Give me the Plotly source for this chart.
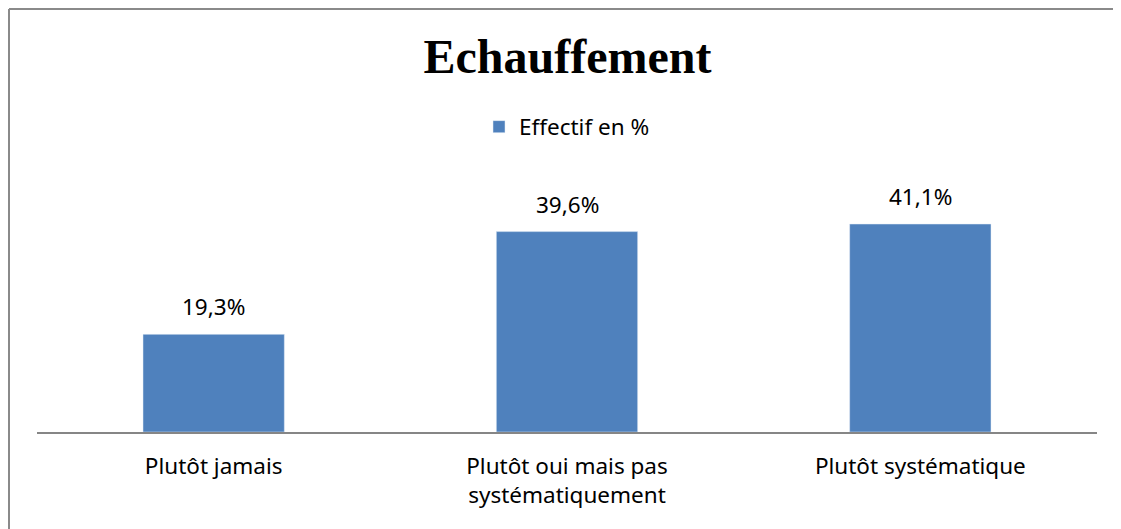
import plotly.graph_objects as go

# Data.
categories = ["Plutôt jamais", "Plutôt oui mais pas<br>systématiquement", "Plutôt systématique"]
effectif = [19.3, 39.6, 41.1]
series_name = "Effectif en %"

# The page body adds an 8px margin, so the figure is 8px smaller each way.
W, H = 1113, 521
L, R, B, T = 29, 24, 97, 171
pw = W - L - R
ph = H - T - B

txt_font = "Noto Sans, sans-serif"
fsize = 22.5

fig = go.Figure()
fig.add_trace(go.Bar(
    x=categories,
    y=effectif,
    name=series_name,
    marker=dict(color="#4f81bd"),
    showlegend=True,
))

# Value labels above the bars.
for cat, val in zip(categories, effectif):
    fig.add_annotation(
        x=cat, y=val, xref="x", yref="y",
        text=f"{val:.1f}%".replace(".", ","),
        showarrow=False, yanchor="bottom", yshift=10,
        font=dict(family=txt_font, size=fsize, color="#000000"),
    )

fig.update_layout(
    width=W,
    height=H,
    margin=dict(l=L, r=R, t=T, b=B),
    paper_bgcolor="white",
    plot_bgcolor="white",
    bargap=0.6,
    font=dict(family=txt_font, size=fsize, color="#000000"),
    title=dict(
        text="<b>Echauffement</b>",
        font=dict(family="Liberation Serif, Times New Roman, serif", size=48, color="#000000"),
        x=559.5 / W, xanchor="center",
        y=1 - 48 / H, yanchor="middle",
    ),
    legend=dict(
        orientation="h",
        x=0.5, xanchor="center",
        y=1 + (T - 119) / ph, yanchor="middle",
        font=dict(family=txt_font, size=fsize, color="#000000"),
        itemwidth=30,
    ),
    xaxis=dict(
        showline=True, linecolor="#868686", linewidth=2,
        showgrid=False, ticks="", tickfont=dict(size=fsize),
        ticklabelstandoff=13,
        fixedrange=True,
    ),
    yaxis=dict(
        range=[0, 50], visible=False, showgrid=False, zeroline=False,
    ),
    # Chart frame (left and top edges visible in the picture).
    shapes=[
        dict(type="line", xref="paper", yref="paper",
             x0=(1 - L) / pw, x1=(1 - L) / pw, y0=-B / ph - 0.1, y1=1 + (T - 1) / ph,
             line=dict(color="#8a8a8a", width=2)),
        dict(type="line", xref="paper", yref="paper",
             x0=(1 - L) / pw, x1=1 + R / pw, y0=1 + (T - 1) / ph, y1=1 + (T - 1) / ph,
             line=dict(color="#8a8a8a", width=2)),
    ],
)

fig.write_html("out.html")
